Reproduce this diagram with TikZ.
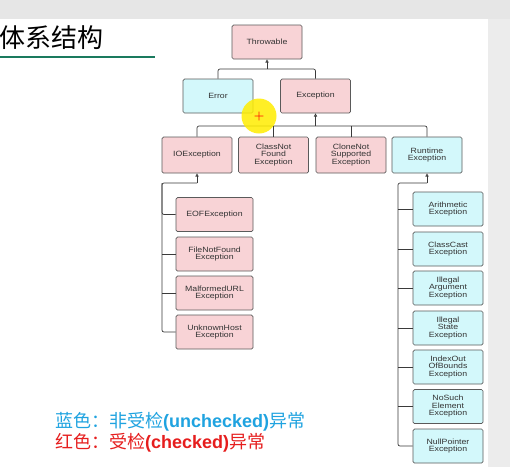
\documentclass[tikz,border=0pt]{standalone}
\usepackage{fontspec}
\usetikzlibrary{arrows.meta}
\newfontfamily\boxfont[FakeStretch=1.15]{Liberation Sans}
\newfontfamily\cjk{Noto Sans CJK SC}
\newfontfamily\arialb{Liberation Sans Bold}
\definecolor{pinkfill}{HTML}{F8D3D6}
\definecolor{cyanfill}{HTML}{D3F8FB}
\definecolor{boxline}{HTML}{5A5A5A}
\definecolor{connline}{HTML}{3A3A3A}
\definecolor{barcol}{HTML}{E6E6E6}
\definecolor{sidecol}{HTML}{ECECEC}
\definecolor{titleline}{HTML}{1A7A5E}
\definecolor{legblue}{HTML}{1FA3E0}
\definecolor{legred}{HTML}{E61E1E}
\tikzset{
  cls/.style={draw=boxline, line width=0.7pt, rounded corners=1.5pt,
    minimum width=70pt, minimum height=34pt, inner sep=1pt, align=center,
    text=black!80, font=\boxfont\fontsize{7.6}{7.5}\selectfont},
  chk/.style={cls, fill=pinkfill},
  unchk/.style={cls, fill=cyanfill},
  conn/.style={draw=connline, line width=0.7pt, rounded corners=2pt},
  inh/.style={conn, -{Triangle[open, length=3.2pt, width=3.2pt]}},
  legend/.style={anchor=west, inner sep=0pt, font=\fontsize{18}{18}\selectfont}
}
\begin{document}
\begin{tikzpicture}[x=1pt, y=-1pt]
\useasboundingbox (0,0) rectangle (510,467);
% background
\fill[white] (0,0) rectangle (510,467);
\fill[barcol] (0,0) rectangle (510,19);
\fill[sidecol] (488,19) rectangle (510,467);
% title
\node[anchor=west, inner sep=0pt, font=\cjk\fontsize{26}{26}\selectfont] (title) at (-1,38) {体系结构};
\fill[titleline] (0,55.5) rectangle (155,58);
% classes
\node[chk]   (thr)  at (267,42)   {Throwable};
\node[unchk] (err)  at (218,96)   {Error};
\node[chk]   (exc)  at (315.5,96) {Exception};
\node[chk, minimum height=36pt]   (ioe)  at (197,155)   {IOException};
\node[chk, minimum height=36pt]   (cnf)  at (273.5,155) {ClassNot\\Found\\Exception};
\node[chk, minimum height=36pt]   (cns)  at (351,155)   {CloneNot\\Supported\\Exception};
\node[unchk, minimum height=36pt] (rte)  at (427,155)   {Runtime\\Exception};
\node[chk, minimum width=77pt] (eof) at (214.5,214.5) {EOFException};
\node[chk, minimum width=77pt] (fnf) at (214.5,254)   {FileNotFound\\Exception};
\node[chk, minimum width=77pt] (mal) at (214.5,293)   {MalformedURL\\Exception};
\node[chk, minimum width=77pt] (unk) at (214.5,332)   {UnknownHost\\Exception};
\node[unchk] (ari)  at (448,209)   {Arithmetic\\Exception};
\node[unchk] (ccs)  at (448,249)   {ClassCast\\Exception};
\node[unchk] (iae)  at (448,288)   {Illegal\\Argument\\Exception};
\node[unchk] (ise)  at (448,328)   {Illegal\\State\\Exception};
\node[unchk] (ioob) at (448,367)   {IndexOut\\OfBounds\\Exception};
\node[unchk] (nse)  at (448,406.5) {NoSuch\\Element\\Exception};
\node[unchk] (npe)  at (448,446)   {NullPointer\\Exception};
% junctions
\coordinate (j1) at (267,69);
\coordinate (j2) at (315.5,126);
\coordinate (j3) at (197,183);
\coordinate (j3l) at (162,183);
\coordinate (j4) at (427,183);
\coordinate (j4l) at (398,183);
% connectors
\draw[conn] (err.north) |- (j1) -| (exc.north);
\draw[inh] (j1) -- (thr.south);
\draw[conn] (ioe.north) |- (j2) -| (rte.north);
\draw[conn] (cnf.north) -- (cnf.north |- j2);
\draw[conn] (cns.north) -- (cns.north |- j2);
\draw[inh] (j2) -- (exc.south);
\draw[conn] (eof.west) -| (j3l) -- (j3);
\draw[conn] (unk.west) -| (j3l);
\draw[conn] (fnf.west) -- (fnf.west -| j3l);
\draw[conn] (mal.west) -- (mal.west -| j3l);
\draw[inh] (j3) -- (ioe.south);
\draw[conn] (npe.west) -| (j4l) -- (j4);
\foreach \n in {ari,ccs,iae,ise,ioob,nse} \draw[conn] (\n.west) -- (\n.west -| j4l);
\draw[inh] (j4) -- (rte.south);
% cursor highlight
\fill[yellow!95!orange, opacity=0.85] (259,116) circle (17.5pt);
\node[text=red, font=\fontsize{12}{12}\selectfont\bfseries, inner sep=0pt] (cursor) at (259,116) {+};
% legend
\node[legend, text=legblue] (leg1) at (55,421.5) {\cjk 蓝色：非受检{\arialb (unchecked)}异常};
\node[legend, text=legred]  (leg2) at (55,443) {\cjk 红色：受检{\arialb (checked)}异常};
\end{tikzpicture}
\end{document}
